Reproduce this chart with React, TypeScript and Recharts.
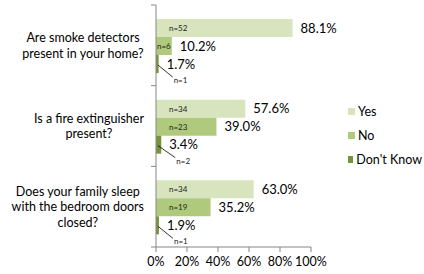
import React from 'react';
import { BarChart, Bar, XAxis, YAxis, Legend, LabelList } from 'recharts';

const categoryLines = [
  ['Are smoke detectors', 'present in your home?'],
  ['Is a fire extinguisher', 'present?'],
  ['Does your family sleep', 'with the bedroom doors', 'closed?'],
];
const yesPct = [88.1, 57.6, 63.0];
const noPct = [10.2, 39.0, 35.2];
const dkPct = [1.7, 3.4, 1.9];
const yesN = [52, 34, 34];
const noN = [6, 23, 19];
const dkN = [1, 2, 1];
const xTicks = [0, 20, 40, 60, 80, 100];

const series = [
  { key: 'yes', name: 'Yes', color: '#d7e4bd' },
  { key: 'no', name: 'No', color: '#b0ca7d' },
  { key: 'dk', name: "Don't Know", color: '#77933c' },
];
const counts: Record<string, number[]> = { yes: yesN, no: noN, dk: dkN };

const data = categoryLines.map((lines, i) => ({
  category: lines.join(' '),
  yes: yesPct[i],
  no: noPct[i],
  dk: dkPct[i],
}));

const FONT = 'Lato, "Open Sans", sans-serif';
const AXIS = '#868686';
const CAT_SIZE = 12.5;

// text width, so wrapped lines can be centred in a right-aligned block like Excel does
let ctx: CanvasRenderingContext2D | null = null;
const measure = (s: string) => {
  if (!ctx) ctx = document.createElement('canvas').getContext('2d');
  if (!ctx) return s.length * 6.5;
  ctx.font = `${CAT_SIZE}px Lato`;
  return ctx.measureText(s).width;
};

const CategoryTick = (props: any) => {
  const { y, payload, index } = props;
  const lines = categoryLines[index] || [];
  const half = payload?.offset || 40.3;
  const lh = 15.5;
  const y0 = y - ((lines.length - 1) * lh) / 2;
  const maxW = Math.max(...lines.map(measure));
  const cx = 144 - maxW / 2;
  return (
    <g>
      <line x1={151} x2={156} y1={y - half} y2={y - half} stroke={AXIS} />
      {index === categoryLines.length - 1 && (
        <line x1={151} x2={156} y1={y + half} y2={y + half} stroke={AXIS} />
      )}
      {lines.map((l, k) => (
        <text key={k} x={cx} y={y0 + k * lh} dy={4.5} textAnchor="middle"
          fontFamily={FONT} fontSize={CAT_SIZE} fill="#000">{l}</text>
      ))}
    </g>
  );
};

// percent label to the right of the bar plus the small n= label
const makeLabel = (key: string) => (props: any) => {
  const { x, y, width, height, value, index } = props;
  const n = counts[key][index];
  const cy = y + height / 2;
  const end = x + width;
  if (key === 'dk') {
    return (
      <g>
        <text x={end + 8} y={cy} dy={4.5} fontFamily={FONT} fontSize={13} fill="#000">
          {value.toFixed(1)}%
        </text>
        <line x1={x + 2} y1={cy + 1} x2={end + 14} y2={cy + 13} stroke="#000" strokeWidth={0.8} />
        <text x={end + 15} y={cy + 16} dy={3} fontFamily={FONT} fontSize={8} fill="#222">n={n}</text>
      </g>
    );
  }
  return (
    <g>
      <text x={width < 30 ? x + 1 : x + 13} y={cy} dy={3} fontFamily={FONT} fontSize={8} fill="#222">
        n={n}
      </text>
      <text x={end + 8} y={cy} dy={4.5} fontFamily={FONT} fontSize={13} fill="#000">
        {value.toFixed(1)}%
      </text>
    </g>
  );
};

const LegendContent = () => (
  <div style={{ fontFamily: FONT, fontSize: 12.5, color: '#000', whiteSpace: 'nowrap' }}>
    {series.map((s) => (
      <div key={s.key} style={{ display: 'flex', alignItems: 'center', height: 24 }}>
        <span style={{ width: 7, height: 7, background: s.color, marginRight: 3, display: 'inline-block' }} />
        {s.name}
      </div>
    ))}
  </div>
);

export default function App() {
  return (
    <div style={{ position: 'absolute', left: 0, top: 0, width: 424, height: 274, background: '#fff' }}>
      <BarChart width={424} height={274} data={data} layout="vertical"
        margin={{ top: 5, right: 113, left: 0, bottom: 0 }}
        barCategoryGap={14} barGap={0}>
        <XAxis type="number" domain={[0, 100]} ticks={xTicks} interval={0}
          tickFormatter={(v) => `${v}%`} height={27}
          axisLine={{ stroke: AXIS }} tickLine={{ stroke: AXIS }} tickSize={5} tickMargin={5}
          tick={{ fontFamily: FONT, fontSize: 12.5, fill: '#000' }} />
        <YAxis type="category" dataKey="category" width={156}
          axisLine={{ stroke: AXIS }} tickLine={false} tick={<CategoryTick />} />
        <Legend layout="vertical" align="center" verticalAlign="middle"
          wrapperStyle={{ left: 348, top: 99, width: 74 }} content={<LegendContent />} />
        {series.map((s) => (
          <Bar key={s.key} dataKey={s.key} name={s.name} fill={s.color} isAnimationActive={false}>
            <LabelList dataKey={s.key} content={makeLabel(s.key)} />
          </Bar>
        ))}
      </BarChart>
    </div>
  );
}
